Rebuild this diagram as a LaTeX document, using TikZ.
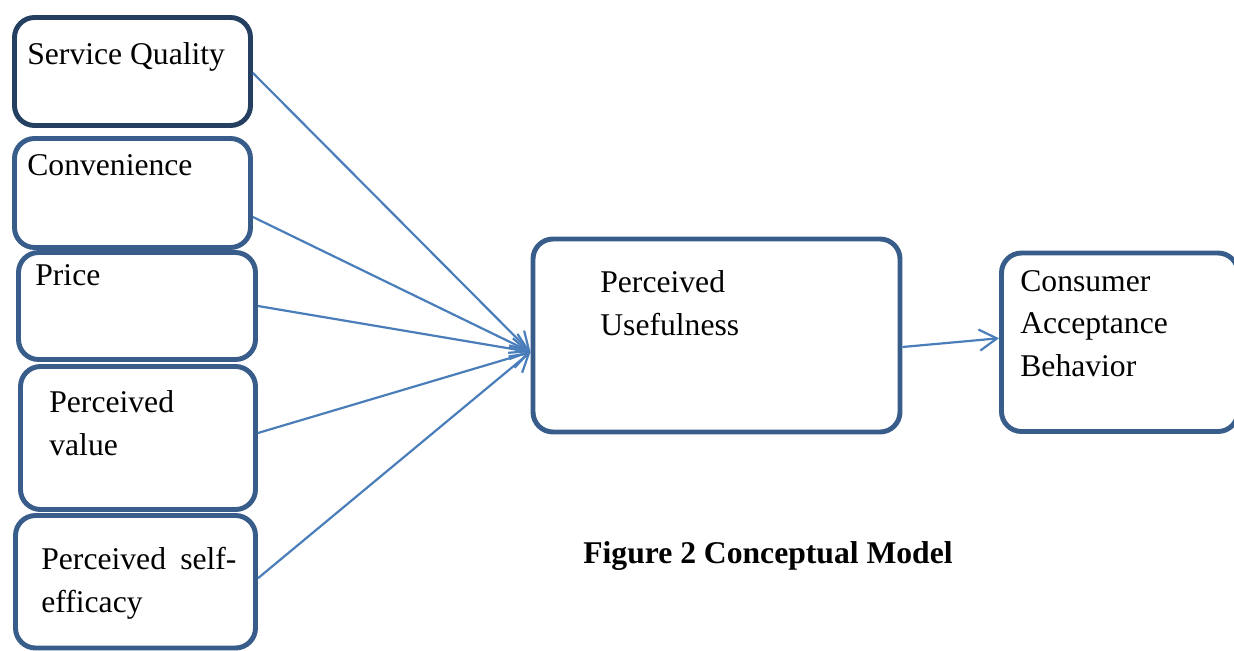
\documentclass[tikz,border=0pt]{standalone}
\usepackage{fontspec}
\setmainfont{Liberation Serif}
\usetikzlibrary{arrows.meta}
\definecolor{boxblue}{HTML}{385D8A}
\definecolor{boxnavy}{HTML}{243F60}
\definecolor{linkblue}{HTML}{4A7EBB}
\tikzset{
  factor/.style={draw=boxblue, line width=2.8pt, rounded corners=0.4cm, inner sep=0pt},
  factortext/.style={anchor=base west, align=left, inner sep=0pt,
                     font=\fontsize{18}{24}\selectfont},
  link/.style={draw=linkblue, line width=1.25pt,
               -{Straight Barb[length=10pt,width=12pt]}}
}

\begin{document}
\begin{tikzpicture}
\clip (0,0) rectangle (24.68,-13.02);
\fill[white] (0,0) rectangle (24.68,-13.02);

% left column of factors
\node [factor, draw=boxnavy, minimum width=4.72cm, minimum height=2.16cm]
       (sq) at (2.65,-1.43) {};
\node [factor, minimum width=4.72cm, minimum height=2.18cm]
       (conv) at (2.65,-3.86) {};
\node [factor, minimum width=4.74cm, minimum height=2.14cm]
       (price) at (2.74,-6.12) {};
\node [factor, minimum width=4.70cm, minimum height=2.86cm]
       (pv) at (2.76,-8.76) {};
\node [factor, minimum width=4.80cm, minimum height=2.65cm]
       (pse) at (2.71,-11.635) {};

% mediator and outcome
\node [factor, minimum width=7.34cm, minimum height=3.86cm]
       (pu) at (14.33,-6.71) {};
\node [factor, minimum width=4.73cm, minimum height=3.57cm]
       (cab) at (22.395,-6.845) {};

% texts (base = last line)
\node [factortext] (sqtext) at (0.54,-1.30) {Service Quality};
\node [factortext] (convtext) at (0.54,-3.50) {Convenience};
\node [factortext] (pricetext) at (0.70,-5.70) {Price};
\node [factortext] (pvtext) at (0.98,-9.10) {Perceived\\value};
\node [factortext] (psetext) at (0.82,-12.24) {Perceived\hspace{0.2em} self-\\efficacy};
\node [factortext] (putext) at (12.0,-6.70) {Perceived\\Usefulness};
\node [factortext] (cabtext) at (20.4,-7.52) {Consumer\\Acceptance\\Behavior};

\node [anchor=base, inner sep=0pt, font=\fontsize{18}{24}\selectfont\bfseries]
       (caption) at (15.36,-11.26) {Figure 2 Conceptual Model};

% connectors
\coordinate (puin) at ([yshift=-0.33cm]pu.west);
\draw [link] ([yshift=-0.03cm]sq.east) -- (puin);
\draw [link] ([yshift=-0.48cm]conv.east) -- (puin);
\draw [link] (price.east) -- (puin);
\draw [link] ([yshift=0.1cm]pv.east) -- (puin);
\draw [link] ([yshift=0.07cm]pse.east) -- (puin);
\draw [link] ([yshift=-0.23cm]pu.east) -- ([yshift=0.08cm]cab.west);
\end{tikzpicture}
\end{document}
